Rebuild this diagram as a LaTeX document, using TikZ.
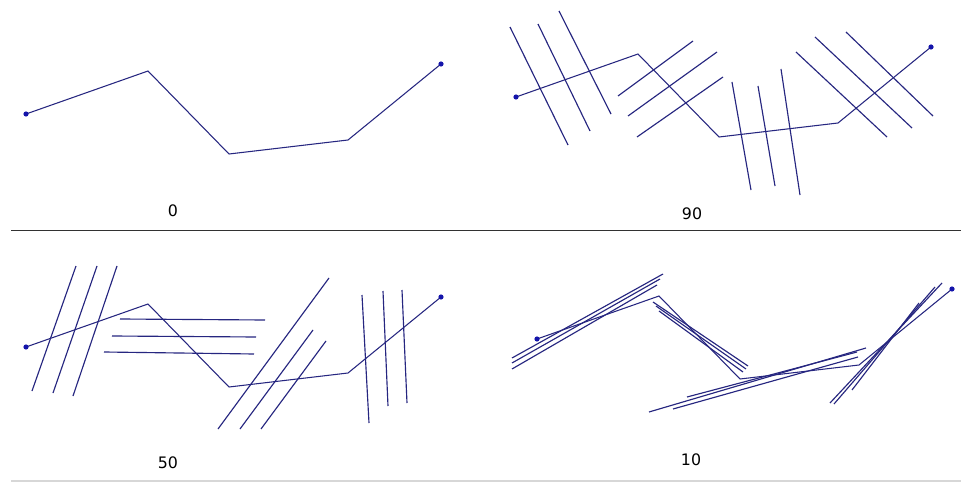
\documentclass[tikz,border=0pt]{standalone}
\usepackage{fontspec}
\setmainfont{DejaVu Sans}
\definecolor{navy}{RGB}{38,38,128}
\definecolor{dotblue}{RGB}{20,20,170}
\definecolor{sepdark}{RGB}{50,50,50}
\definecolor{seplight}{RGB}{215,215,215}
\begin{document}
\begin{tikzpicture}[x=0.02cm,y=-0.02cm,
  path/.style={draw=navy,line width=0.6pt,line join=miter},
  hatch/.style={draw=navy,line width=0.65pt},
  enddot/.style={fill=dotblue},
  lbl/.style={font=\fontsize{9}{10}\selectfont,text=black,inner sep=0pt}]
\useasboundingbox (0,0) rectangle (961,483);
\fill[white] (0,0) rectangle (961,483);
% separators
\draw[sepdark,line width=1.1pt] (11,230.5) -- (961,230.5);
\draw[seplight,line width=1pt] (11,481) -- (961,481);
% generic zigzag as named coordinates in each panel
\newcommand\zigzag[3]{%
  \begin{scope}[shift={(#1,#2)}]
    \coordinate (#3a) at (26,114);
    \coordinate (#3b) at (148,71);
    \coordinate (#3c) at (229,154);
    \coordinate (#3d) at (348,140);
    \coordinate (#3e) at (441,64);
  \end{scope}
  \draw[path] (#3a) -- (#3b) -- (#3c) -- (#3d) -- (#3e);
  \fill[enddot] (#3a) circle (2.6);
  \fill[enddot] (#3e) circle (2.6);}
% panel 0
\zigzag{0}{0}{p}
\node[lbl] (l0) at (173,211) {0};
% panel 90
\zigzag{490}{-17}{q}
\draw[hatch] (510,27) -- (568,145);
\draw[hatch] (538,24) -- (590,131);
\draw[hatch] (559,11) -- (611,114);
\draw[hatch] (618,96) -- (693,41);
\draw[hatch] (628,116) -- (717,52);
\draw[hatch] (637,137) -- (723,77);
\draw[hatch] (732,82) -- (751,190);
\draw[hatch] (758,86) -- (775,186);
\draw[hatch] (781,69) -- (800,195);
\draw[hatch] (796,52) -- (887,137);
\draw[hatch] (815,37) -- (912,128);
\draw[hatch] (846,32) -- (933,116);
\node[lbl] (l90) at (692,214) {90};
% panel 50
\zigzag{0}{233}{r}
\draw[hatch] (76,266) -- (32,391);
\draw[hatch] (97,266) -- (53,393);
\draw[hatch] (117,266) -- (73,396);
\draw[hatch] (120,319) -- (265,320);
\draw[hatch] (112,336) -- (256,337);
\draw[hatch] (104,352) -- (254,354);
\draw[hatch] (329,278) -- (218,429);
\draw[hatch] (313,330) -- (240,429);
\draw[hatch] (326,341) -- (261,429);
\draw[hatch] (362,295) -- (369,423);
\draw[hatch] (383,291) -- (388,406);
\draw[hatch] (402,290) -- (407,403);
\node[lbl] (l50) at (168,463) {50};
% panel 10
\zigzag{511}{225}{s}
\draw[hatch] (512,358) -- (663,274);
\draw[hatch] (512,363) -- (660,279);
\draw[hatch] (512,369) -- (657,285);
\draw[hatch] (653,302) -- (748,366);
\draw[hatch] (656,306) -- (746,369);
\draw[hatch] (659,311) -- (743,372);
\draw[hatch] (649,412) -- (866,348);
\draw[hatch] (673,409) -- (858,357);
\draw[hatch] (687,397) -- (857,352);
\draw[hatch] (830,403) -- (942,283);
\draw[hatch] (834,404) -- (935,287);
\draw[hatch] (852,390) -- (919,303);
\node[lbl] (l10) at (691,460) {10};
\end{tikzpicture}
\end{document}
